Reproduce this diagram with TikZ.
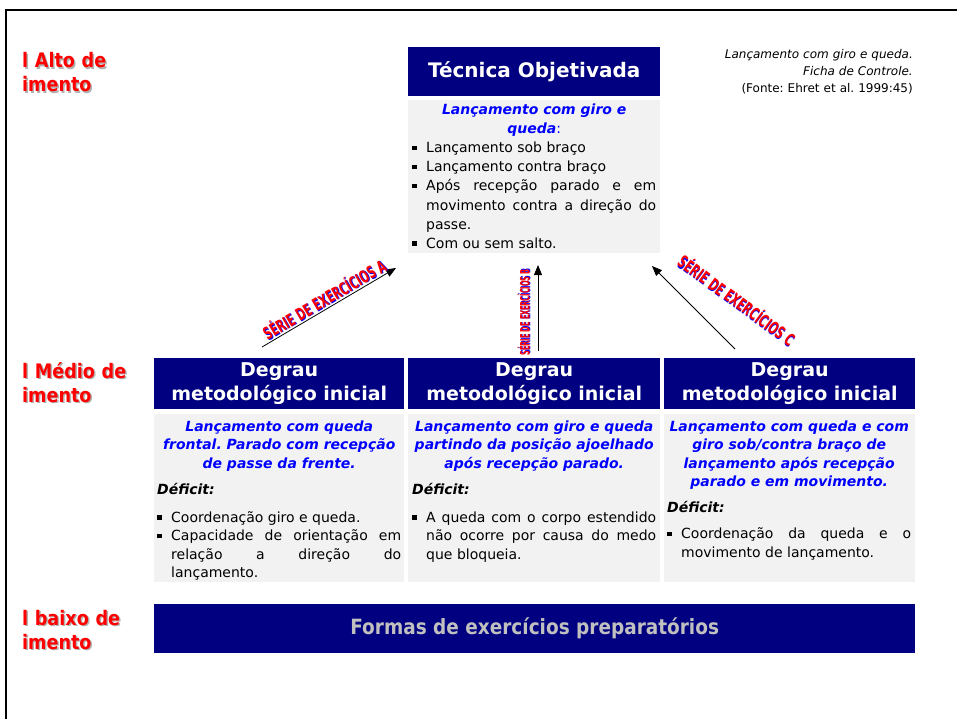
\documentclass[tikz,border=0pt]{standalone}
\usepackage{fontspec}
\setmainfont{DejaVu Sans}
\newfontfamily\estreita{DejaVu Sans}[FakeStretch=0.88]
\usetikzlibrary{arrows.meta}

\definecolor{marinho}{RGB}{0,0,128}
\definecolor{cinzabox}{RGB}{242,242,242}
\definecolor{azultexto}{RGB}{0,0,255}
\definecolor{vermelho}{RGB}{255,0,0}
\definecolor{cinzatexto}{RGB}{192,192,192}

\hyphenpenalty=10000
\exhyphenpenalty=10000
\tolerance=9000
\frenchspacing

% texto com sombra deslocada
\newcommand\sombra[3]{\makebox[0pt][l]{\hspace*{#2}\raisebox{-#2}{\textcolor{#1}{#3}}}#3}
% marcador quadrado
\newcommand\topico{\par\noindent\hangindent=14bp\hangafter=1\makebox[14bp][l]{\rule[2.5bp]{4.5bp}{4.5bp}}\ignorespaces}

\tikzset{
    faixa/.style={fill=marinho, text=white, inner sep=0pt, align=center, anchor=north west,
        font=\bfseries\fontsize{19bp}{24bp}\selectfont},
    caixacinza/.style={fill=cinzabox, inner sep=0pt, anchor=north west},
    texto/.style={anchor=base west, inner sep=0pt, text width=244bp, align=justify,
        font=\fontsize{14bp}{18.5bp}\selectfont},
    nivel/.style={anchor=base west, inner sep=0pt, text width=130bp, align=left, text=vermelho,
        font=\estreita\bfseries\fontsize{20bp}{24bp}\selectfont},
    serie/.style={inner sep=0pt, text=vermelho, font=\bfseries\fontsize{17bp}{17bp}\selectfont},
    seta/.style={-{Triangle[length=10bp,width=8bp]}, line width=0.8bp},
}

\begin{document}
\begin{tikzpicture}[x=1bp, y=-1bp]
    \useasboundingbox (0,0) rectangle (957,719);
    \draw[line width=2.5bp] (6,719) -- (6,10) -- (957,10);

    % niveis
    \node[nivel] (alto) at (22,68) {\sombra{gray!60}{1.5bp}{l Alto de}\\\sombra{gray!60}{1.5bp}{imento}};
    \node[nivel] (medio) at (22,378) {\sombra{gray!60}{1.5bp}{l Médio de}\\\sombra{gray!60}{1.5bp}{imento}};
    \node[nivel] (baixo) at (22,625) {\sombra{gray!60}{1.5bp}{l baixo de}\\\sombra{gray!60}{1.5bp}{imento}};

    \node[anchor=base east, inner sep=0pt, text width=220bp, align=right,
        font=\fontsize{12bp}{17bp}\selectfont] (fonte) at (913,59)
        {\textit{Lançamento com giro e queda.}\\\textit{Ficha de Controle.}\\(Fonte: Ehret et al. 1999:45)};

    % tecnica objetivada
    \node[faixa, minimum width=252bp, minimum height=49bp, font=\bfseries\fontsize{20bp}{24bp}\selectfont]
        (tecnica) at (408,47) {Técnica Objetivada};
    \node[caixacinza, minimum width=252bp, minimum height=153bp] (alvo) at (408,100) {};
    \node[texto, font=\fontsize{14bp}{19bp}\selectfont] (alvotxt) at (412,115) {%
        {\centering\leavevmode\color{azultexto}\bfseries\itshape Lançamento com giro e\\ queda{\mdseries\upshape:}\par}
        \topico Lançamento sob braço
        \topico Lançamento contra braço
        \topico Após recepção parado e em movimento contra a direção do passe.
        \topico Com ou sem salto.\par};

    % degraus
    \node[faixa, minimum width=250bp, minimum height=51bp] (degrau1) at (154,358) {Degrau\\metodológico inicial};
    \node[faixa, minimum width=252bp, minimum height=51bp] (degrau2) at (408,358) {Degrau\\metodológico inicial};
    \node[faixa, minimum width=251bp, minimum height=51bp] (degrau3) at (664,358) {Degrau\\metodológico inicial};

    \node[caixacinza, minimum width=250bp, minimum height=168bp] (caixa1) at (154,414) {};
    \node[caixacinza, minimum width=252bp, minimum height=168bp] (caixa2) at (408,414) {};
    \node[caixacinza, minimum width=251bp, minimum height=168bp] (caixa3) at (664,414) {};

    \node[texto] (texto1) at (157,431) {%
        {\centering\leavevmode\color{azultexto}\bfseries\itshape Lançamento com queda\\ frontal. Parado com recepção\\ de passe da frente.\par}
        \vspace{7.5bp}
        {\bfseries\itshape Déficit:\par}
        \vspace{9.5bp}
        \topico Coordenação giro e queda.
        \topico Capacidade de orientação em\linebreak relação a direção do\linebreak lançamento.\par};
    \node[texto] (texto2) at (412,431) {%
        {\centering\leavevmode\color{azultexto}\bfseries\itshape Lançamento com giro e queda\\ partindo da posição ajoelhado\\ após recepção parado.\par}
        \vspace{7.5bp}
        {\bfseries\itshape Déficit:\par}
        \vspace{9.5bp}
        \topico A queda com o corpo estendido não ocorre por causa do medo que bloqueia.\par};
    \node[texto] (texto3) at (667,431) {%
        {\centering\leavevmode\color{azultexto}\bfseries\itshape Lançamento com queda e com\\ giro sob/contra braço de\\ lançamento após recepção\\ parado e em movimento.\par}
        \vspace{7bp}
        {\bfseries\itshape Déficit:\par}
        \vspace{8bp}
        \topico Coordenação da queda e o movimento de lançamento.\par};

    \node[faixa, minimum width=761bp, minimum height=49bp, text=cinzatexto,
        font=\estreita\bfseries\fontsize{21bp}{25bp}\selectfont] (formas) at (154,604) {Formas de exercícios preparatórios};

    % series de exercicios
    \coordinate (pA) at (262,347);
    \coordinate (qA) at (396,268);
    \coordinate (pB) at (538,351);
    \coordinate (qB) at (538,265);
    \coordinate (pC) at (735,349);
    \coordinate (qC) at (652,266);

    \draw[seta] (pA) -- (qA)
        node[serie, midway, sloped, above=1bp] {\scalebox{0.62}[1]{\sombra{azultexto}{0.9bp}{SÉRIE DE EXERCÍCIOS A}}};
    \draw[seta] (pB) -- (qB)
        node[serie, pos=0.45, sloped, above=7bp, font=\bfseries\fontsize{13bp}{13bp}\selectfont]
        {\scalebox{0.5}[1]{\sombra{azultexto}{0.7bp}{SÉRIE DE EXERCÍCIOS B}}};
    \draw[seta] (pC) -- (qC);
    \node[serie, rotate=-36] (serieC) at (737,300) {\scalebox{0.62}[1]{\sombra{azultexto}{0.9bp}{SÉRIE DE EXERCÍCIOS C}}};
\end{tikzpicture}
\end{document}
